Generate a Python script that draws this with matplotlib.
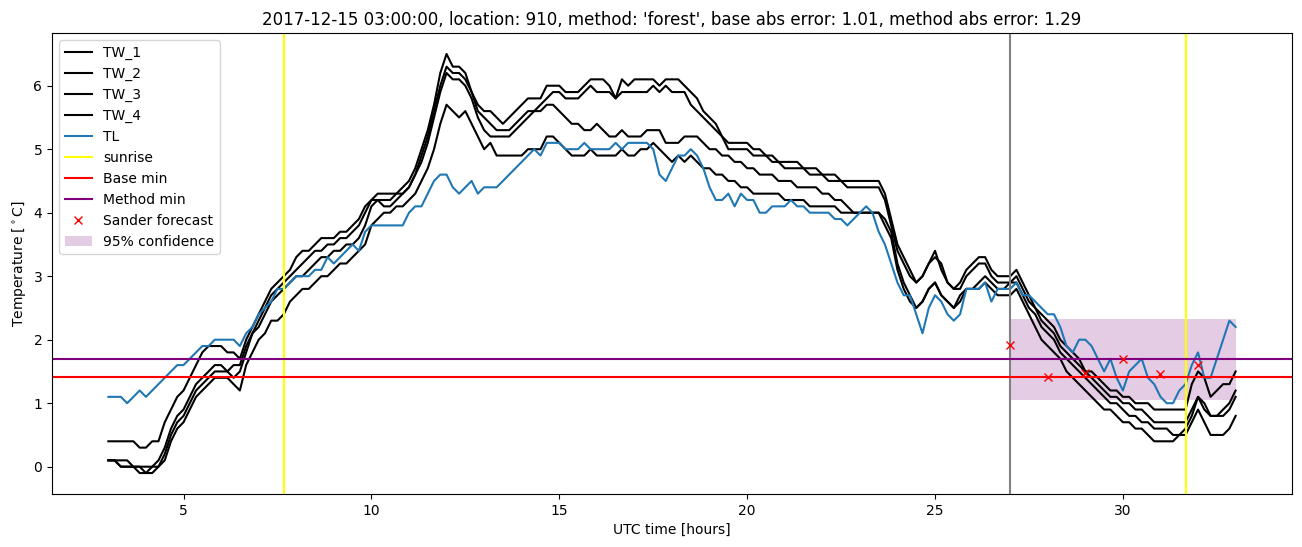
import numpy as np
import matplotlib
matplotlib.use("Agg")
import matplotlib.pyplot as plt

# 10-minute samples from 03:00 to 33:00 UTC hours
hours = np.linspace(3, 33, 181)

TL = [
    1.1, 1.1, 1.1, 1.0, 1.1, 1.2,
    1.1, 1.2, 1.3, 1.4, 1.5, 1.6,
    1.6, 1.7, 1.8, 1.9, 1.9, 2.0,
    2.0, 2.0, 2.0, 1.9, 2.1, 2.2,
    2.4, 2.5, 2.6, 2.8, 2.8, 2.9,
    3.0, 3.0, 3.0, 3.1, 3.1, 3.3,
    3.2, 3.3, 3.4, 3.5, 3.4, 3.7,
    3.8, 3.8, 3.8, 3.8, 3.8, 3.8,
    4.0, 4.1, 4.1, 4.3, 4.5, 4.6,
    4.6, 4.4, 4.3, 4.4, 4.5, 4.3,
    4.4, 4.4, 4.4, 4.5, 4.6, 4.7,
    4.8, 4.9, 5.0, 4.9, 5.1, 5.1,
    5.1, 5.0, 5.0, 5.0, 5.1, 5.0,
    5.0, 5.0, 5.0, 5.1, 5.0, 5.1,
    5.1, 5.1, 5.1, 5.0, 4.6, 4.5,
    4.7, 4.9, 4.9, 5.0, 4.9, 4.7,
    4.4, 4.2, 4.2, 4.3, 4.1, 4.3,
    4.2, 4.2, 4.0, 4.0, 4.1, 4.1,
    4.1, 4.2, 4.1, 4.1, 4.0, 4.0,
    4.0, 4.0, 3.9, 3.9, 3.8, 3.9,
    4.0, 4.1, 4.0, 3.7, 3.5, 3.2,
    2.9, 2.7, 2.7, 2.4, 2.1, 2.5,
    2.7, 2.6, 2.4, 2.3, 2.4, 2.8,
    2.8, 2.8, 2.9, 2.6, 2.8, 2.8,
    2.8, 2.9, 2.7, 2.7, 2.6, 2.5,
    2.4, 2.4, 2.2, 1.9, 1.8, 2.0,
    2.0, 1.9, 1.7, 1.5, 1.7, 1.4,
    1.2, 1.5, 1.6, 1.7, 1.4, 1.3,
    1.1, 1.0, 1.0, 1.2, 1.3, 1.6,
    1.8, 1.4, 1.4, 1.7, 2.0, 2.3,
    2.2,
]

TW_1 = [
    0.4, 0.4, 0.4, 0.4, 0.4, 0.3,
    0.3, 0.4, 0.4, 0.7, 0.9, 1.1,
    1.2, 1.4, 1.6, 1.8, 1.9, 1.9,
    1.9, 1.8, 1.8, 1.7, 2.0, 2.2,
    2.4, 2.6, 2.8, 2.9, 3.0, 3.1,
    3.3, 3.4, 3.4, 3.5, 3.6, 3.6,
    3.6, 3.7, 3.7, 3.8, 3.9, 4.1,
    4.2, 4.3, 4.3, 4.3, 4.3, 4.4,
    4.5, 4.7, 5.0, 5.3, 5.7, 6.2,
    6.5, 6.3, 6.3, 6.2, 5.9, 5.7,
    5.6, 5.6, 5.5, 5.4, 5.5, 5.6,
    5.7, 5.8, 5.8, 5.8, 6.0, 6.0,
    6.0, 5.9, 5.9, 5.9, 6.0, 6.1,
    6.1, 6.1, 6.0, 5.8, 6.1, 6.0,
    6.1, 6.1, 6.1, 6.1, 6.0, 6.1,
    6.1, 6.1, 6.0, 5.9, 5.8, 5.6,
    5.5, 5.4, 5.2, 5.1, 5.1, 5.1,
    5.1, 5.0, 5.0, 4.9, 4.9, 4.8,
    4.8, 4.8, 4.8, 4.7, 4.7, 4.7,
    4.6, 4.6, 4.6, 4.5, 4.5, 4.5,
    4.5, 4.5, 4.5, 4.5, 4.3, 3.9,
    3.5, 3.3, 3.1, 2.9, 3.0, 3.2,
    3.4, 3.1, 2.9, 2.8, 2.9, 3.1,
    3.2, 3.3, 3.3, 3.1, 3.0, 3.0,
    3.0, 3.1, 2.9, 2.7, 2.5, 2.4,
    2.3, 2.2, 2.0, 1.9, 1.8, 1.7,
    1.5, 1.5, 1.4, 1.3, 1.2, 1.2,
    1.1, 1.1, 1.0, 1.0, 1.0, 0.9,
    0.9, 0.9, 0.9, 0.9, 0.9, 1.3,
    1.5, 1.4, 1.1, 1.2, 1.3, 1.3,
    1.5,
]

TW_2 = [
    0.1, 0.1, 0.1, 0.1, 0.0, 0.0,
    0.0, 0.0, 0.1, 0.3, 0.6, 0.8,
    0.9, 1.1, 1.3, 1.4, 1.5, 1.6,
    1.6, 1.5, 1.6, 1.6, 1.9, 2.1,
    2.3, 2.5, 2.7, 2.8, 2.9, 3.0,
    3.1, 3.2, 3.3, 3.4, 3.4, 3.5,
    3.5, 3.6, 3.6, 3.7, 3.8, 4.0,
    4.2, 4.2, 4.2, 4.2, 4.3, 4.3,
    4.4, 4.6, 4.9, 5.2, 5.6, 6.0,
    6.3, 6.2, 6.2, 6.1, 5.9, 5.6,
    5.5, 5.4, 5.3, 5.3, 5.3, 5.4,
    5.5, 5.6, 5.6, 5.7, 5.8, 5.9,
    5.9, 5.8, 5.8, 5.8, 5.9, 6.0,
    5.9, 5.9, 5.9, 5.8, 5.9, 5.9,
    5.9, 5.9, 5.9, 6.0, 5.9, 6.0,
    5.9, 5.9, 5.9, 5.7, 5.6, 5.5,
    5.4, 5.3, 5.2, 5.0, 5.0, 5.0,
    5.0, 4.9, 4.9, 4.9, 4.8, 4.8,
    4.7, 4.7, 4.7, 4.7, 4.6, 4.6,
    4.6, 4.5, 4.5, 4.5, 4.4, 4.4,
    4.4, 4.4, 4.4, 4.4, 4.2, 3.8,
    3.4, 3.2, 3.0, 2.9, 3.0, 3.2,
    3.3, 3.2, 2.9, 2.8, 2.8, 3.0,
    3.1, 3.2, 3.2, 3.0, 2.9, 2.9,
    2.9, 3.0, 2.8, 2.6, 2.5, 2.3,
    2.2, 2.1, 1.9, 1.8, 1.7, 1.6,
    1.5, 1.4, 1.3, 1.2, 1.1, 1.1,
    1.0, 1.0, 0.9, 0.9, 0.8, 0.7,
    0.7, 0.7, 0.7, 0.7, 0.7, 0.9,
    1.1, 1.0, 0.8, 0.8, 0.9, 1.0,
    1.2,
]

TW_3 = [
    0.1, 0.1, 0.0, 0.0, 0.0, 0.0,
    -0.1, 0.0, 0.0, 0.2, 0.5, 0.7,
    0.8, 1.0, 1.2, 1.3, 1.4, 1.5,
    1.5, 1.5, 1.4, 1.5, 1.8, 2.1,
    2.2, 2.4, 2.6, 2.7, 2.8, 2.9,
    3.0, 3.0, 3.1, 3.2, 3.3, 3.3,
    3.4, 3.4, 3.5, 3.5, 3.6, 3.8,
    4.1, 4.2, 4.1, 4.1, 4.2, 4.3,
    4.4, 4.6, 4.8, 5.1, 5.5, 5.9,
    6.2, 6.1, 6.1, 6.0, 5.8, 5.5,
    5.3, 5.2, 5.2, 5.2, 5.2, 5.3,
    5.4, 5.5, 5.6, 5.6, 5.7, 5.7,
    5.6, 5.5, 5.4, 5.4, 5.3, 5.3,
    5.4, 5.3, 5.2, 5.2, 5.3, 5.2,
    5.2, 5.2, 5.3, 5.3, 5.3, 5.1,
    5.1, 5.1, 5.2, 5.2, 5.2, 5.1,
    5.0, 5.0, 4.9, 4.9, 4.8, 4.8,
    4.7, 4.7, 4.6, 4.6, 4.6, 4.5,
    4.5, 4.5, 4.4, 4.4, 4.4, 4.4,
    4.3, 4.3, 4.2, 4.2, 4.1, 4.0,
    4.0, 4.0, 4.0, 4.0, 3.9, 3.7,
    3.2, 2.9, 2.7, 2.5, 2.6, 2.8,
    2.9, 2.7, 2.6, 2.5, 2.7, 2.8,
    2.8, 2.9, 3.0, 2.9, 2.8, 2.8,
    2.9, 2.9, 2.7, 2.5, 2.4, 2.2,
    2.1, 2.0, 1.8, 1.7, 1.6, 1.5,
    1.4, 1.3, 1.2, 1.1, 1.0, 1.0,
    0.9, 0.8, 0.8, 0.7, 0.7, 0.6,
    0.6, 0.6, 0.5, 0.5, 0.6, 0.8,
    1.1, 0.9, 0.8, 0.8, 0.8, 0.9,
    1.1,
]

TW_4 = [
    0.1, 0.1, 0.0, 0.0, 0.0, -0.1,
    -0.1, -0.1, 0.0, 0.1, 0.4, 0.6,
    0.7, 0.9, 1.1, 1.2, 1.3, 1.4,
    1.4, 1.4, 1.3, 1.2, 1.6, 1.8,
    2.0, 2.1, 2.3, 2.3, 2.4, 2.6,
    2.7, 2.8, 2.8, 2.9, 3.0, 3.0,
    3.1, 3.2, 3.2, 3.3, 3.4, 3.5,
    3.8, 3.9, 4.0, 4.0, 4.1, 4.1,
    4.2, 4.3, 4.5, 4.7, 5.0, 5.4,
    5.7, 5.6, 5.5, 5.6, 5.4, 5.2,
    5.0, 5.1, 4.9, 4.9, 4.9, 4.9,
    4.9, 5.0, 5.0, 5.0, 5.2, 5.2,
    5.1, 5.0, 4.9, 4.9, 4.9, 5.0,
    4.9, 4.9, 4.9, 4.9, 5.0, 4.9,
    4.9, 5.0, 5.0, 5.1, 5.0, 4.9,
    4.8, 4.9, 4.8, 4.9, 4.8, 4.7,
    4.7, 4.6, 4.6, 4.5, 4.5, 4.4,
    4.4, 4.3, 4.3, 4.3, 4.3, 4.3,
    4.2, 4.2, 4.2, 4.2, 4.1, 4.1,
    4.1, 4.1, 4.1, 4.0, 4.0, 4.0,
    4.0, 4.0, 4.0, 4.0, 3.8, 3.6,
    3.1, 2.8, 2.6, 2.5, 2.6, 2.8,
    2.9, 2.7, 2.6, 2.5, 2.6, 2.8,
    2.8, 2.8, 2.9, 2.8, 2.7, 2.7,
    2.7, 2.8, 2.6, 2.4, 2.2, 2.0,
    1.9, 1.8, 1.7, 1.5, 1.4, 1.3,
    1.2, 1.1, 1.0, 0.9, 0.9, 0.8,
    0.7, 0.7, 0.6, 0.6, 0.5, 0.4,
    0.4, 0.4, 0.4, 0.5, 0.5, 0.7,
    0.9, 0.7, 0.5, 0.5, 0.5, 0.6,
    0.8,
]

sunrise_hours = [7.67, 31.67]
forecast_start = 27.0
base_min = 1.41
method_min = 1.69
forecast_hours = [27, 28, 29, 30, 31, 32]
forecast_values = [1.91, 1.41, 1.48, 1.70, 1.46, 1.60]
conf_hours = [27.0, 33.0]
conf_low = 1.05
conf_high = 2.33

title = ("2017-12-15 03:00:00, location: 910, method: 'forest', "
         "base abs error: 1.01, method abs error: 1.29")

fig = plt.figure(figsize=(13.02, 5.47), dpi=100)
ax = fig.add_axes([52 / 1302, 53 / 547, 1240 / 1302, 461 / 547])

for name, vals in [("TW_1", TW_1), ("TW_2", TW_2), ("TW_3", TW_3), ("TW_4", TW_4)]:
    ax.plot(hours, vals, color="black", label=name)
ax.plot(hours, TL, color="C0", label="TL")
ax.axvline(sunrise_hours[0], color="yellow", label="sunrise")
ax.axvline(sunrise_hours[1], color="yellow")
ax.axvline(forecast_start, color="grey")
ax.axhline(base_min, color="red", label="Base min")
ax.axhline(method_min, color="purple", label="Method min")
ax.plot(forecast_hours, forecast_values, "rx", label="Sander forecast")
ax.fill_between(conf_hours, [conf_low, conf_low], [conf_high, conf_high],
                color="purple", alpha=0.2, linewidth=0, label="95% confidence")

ax.set_title(title)
ax.set_xlabel("UTC time [hours]")
ax.set_ylabel(r"Temperature [$^\circ$C]")
ax.legend(loc="upper left")

fig.savefig("out.png", dpi=100)
